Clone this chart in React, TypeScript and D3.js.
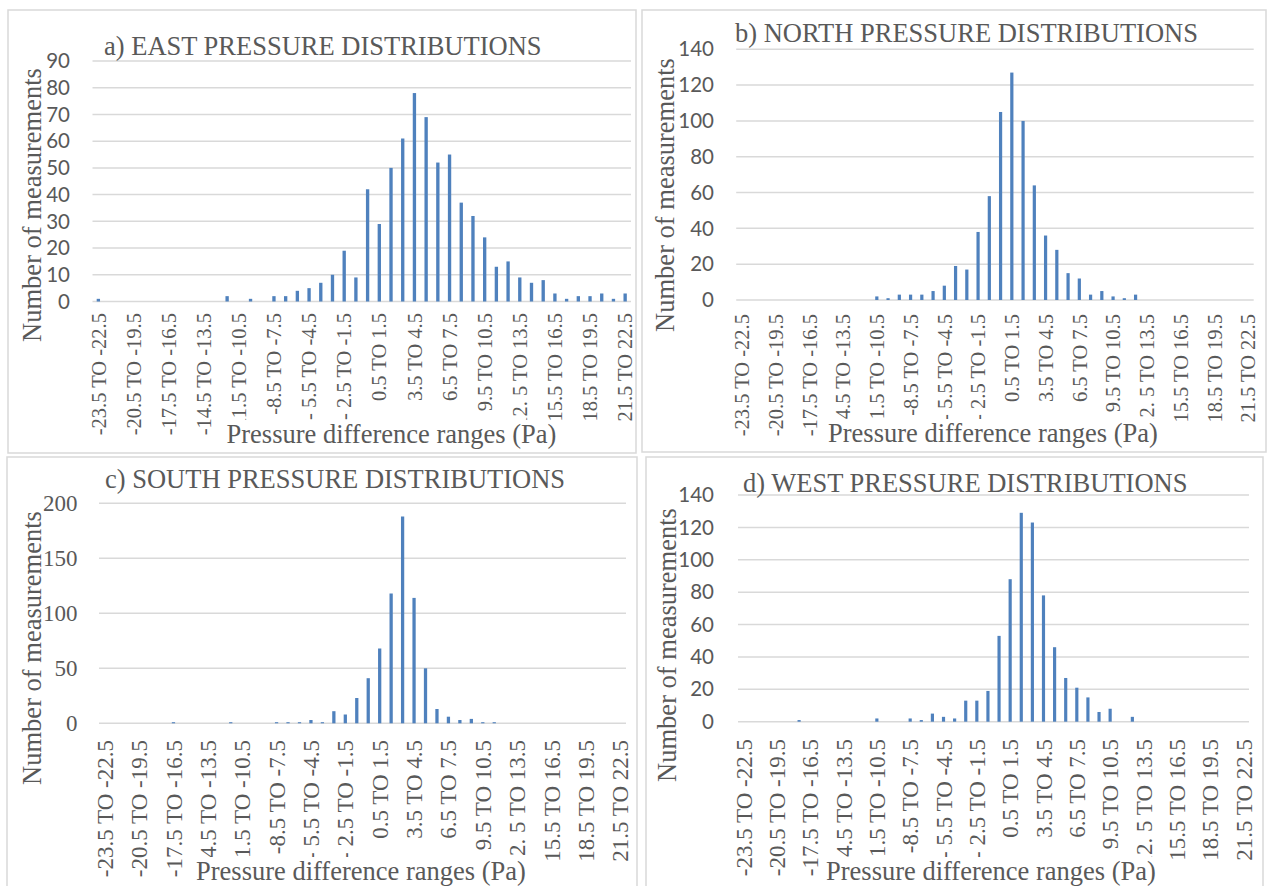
import React from "react";
import * as d3 from "d3";

// ---- DATA ----
const categories: string[] = [
  "-23.5 TO -22.5", "-22.5 TO -21.5", "-21.5 TO -20.5",
  "-20.5 TO -19.5", "-19.5 TO -18.5", "-18.5 TO -17.5",
  "-17.5 TO -16.5", "-16.5 TO -15.5", "-15.5 TO -14.5",
  "-14.5 TO -13.5", "-13.5 TO -12.5", "-12.5 TO -11.5",
  "-11.5 TO -10.5", "-10.5 TO -9.5", "-9.5 TO -8.5",
  "-8.5 TO -7.5", "-7.5 TO -6.5", "-6.5 TO -5.5",
  "- 5.5 TO -4.5", "-4.5 TO -3.5", "-3.5 TO -2.5",
  "- 2.5 TO -1.5", "-1.5 TO -0.5", "-0.5 TO 0.5",
  "0.5 TO 1.5", "1.5 TO 2.5", "2.5 TO 3.5",
  "3.5 TO 4.5", "4.5 TO 5.5", "5.5 TO 6.5",
  "6.5 TO 7.5", "7.5 TO 8.5", "8.5 TO 9.5",
  "9.5 TO 10.5", "10.5 TO 11.5", "11.5 TO 12.5",
  "12. 5 TO 13.5", "13.5 TO 14.5", "14.5 TO 15.5",
  "15.5 TO 16.5", "16.5 TO 17.5", "17.5 TO 18.5",
  "18.5 TO 19.5", "19.5 TO 20.5", "20.5 TO 21.5",
  "21.5 TO 22.5",
];

const eastCounts: number[] = [
  1, 0, 0, 0, 0, 0, 0, 0, 0, 0, 0, 2, 0, 1, 0, 2, 2, 4, 5, 7, 10, 19, 9,
  42, 29, 50, 61, 78, 69, 52, 55, 37, 32, 24, 13, 15, 9, 7, 8, 3, 1, 2, 2, 3, 1, 3,
];
const northCounts: number[] = [
  0, 0, 0, 0, 0, 0, 0, 0, 0, 0, 0, 0, 2, 1, 3, 3, 3, 5, 8, 19, 17, 38, 58,
  105, 127, 100, 64, 36, 28, 15, 12, 3, 5, 2, 1, 3, 0, 0, 0, 0, 0, 0, 0, 0, 0, 0,
];
const southCounts: number[] = [
  0, 0, 0, 0, 0, 0, 1, 0, 0, 0, 0, 1, 0, 0, 0, 1, 1, 1, 3, 1, 11, 8, 23,
  41, 68, 118, 188, 114, 50, 13, 6, 3, 4, 1, 1, 0, 0, 0, 0, 0, 0, 0, 0, 0, 0, 0,
];
const westCounts: number[] = [
  0, 0, 0, 0, 0, 1, 0, 0, 0, 0, 0, 0, 2, 0, 0, 2, 1, 5, 3, 2, 13, 13, 19,
  53, 88, 129, 123, 78, 46, 27, 21, 15, 6, 8, 0, 3, 0, 0, 0, 0, 0, 0, 0, 0, 0, 0,
];

const eastTicks: number[] = [0, 10, 20, 30, 40, 50, 60, 70, 80, 90];
const northTicks: number[] = [0, 20, 40, 60, 80, 100, 120, 140];
const southTicks: number[] = [0, 50, 100, 150, 200];
const westTicks: number[] = [0, 20, 40, 60, 80, 100, 120, 140];

const panelTitles: string[] = [
  "a) EAST PRESSURE DISTRIBUTIONS",
  "b) NORTH PRESSURE DISTRIBUTIONS",
  "c) SOUTH PRESSURE DISTRIBUTIONS",
  "d) WEST PRESSURE DISTRIBUTIONS",
];
const yAxisTitle = "Number of measurements";
const xAxisTitle = "Pressure difference ranges (Pa)";

// ---- STYLE / LAYOUT ----
const SERIF = "'Liberation Serif', 'Times New Roman', serif";
const SANS = "Lato, Carlito, Calibri, 'Open Sans', sans-serif";
const TEXT = "#595959";
const BAR = "#4F81BD";
const GRID = "#D9D9D9";

type Layout = {
  border: [number, number, number, number];
  plotLeft: number;
  plotRight: number;
  yZero: number;
  yTop: number;
  tickRight: number;
  tickFont: string;
  tickSize: number;
  titleX: number;
  titleY: number;
  yTitleX: number;
  yTitleY: number;
  xLabelTop: number;
  xLabelSize: number;
  xTitleX: number;
  xTitleY: number;
};

const layouts: Layout[] = [
  {
    border: [8, 10, 636, 453],
    plotLeft: 92.5, plotRight: 631, yZero: 301.5, yTop: 61,
    tickRight: 70, tickFont: SANS, tickSize: 20.5,
    titleX: 104, titleY: 55,
    yTitleX: 41, yTitleY: 205,
    xLabelTop: 313, xLabelSize: 20.5,
    xTitleX: 226.5, xTitleY: 443,
  },
  {
    border: [642, 10, 1266, 452],
    plotLeft: 736.2, plotRight: 1253.7, yZero: 300, yTop: 49.3,
    tickRight: 714, tickFont: SANS, tickSize: 20.5,
    titleX: 735, titleY: 41.7,
    yTitleX: 674, yTitleY: 195,
    xLabelTop: 314, xLabelSize: 20.5,
    xTitleX: 828, xTitleY: 442,
  },
  {
    border: [7, 457, 637, 900],
    plotLeft: 99, plotRight: 626, yZero: 723.3, yTop: 503.3,
    tickRight: 77.5, tickFont: SERIF, tickSize: 23,
    titleX: 105, titleY: 488,
    yTitleX: 41, yTitleY: 648,
    xLabelTop: 740, xLabelSize: 23,
    xTitleX: 196, xTitleY: 880,
  },
  {
    border: [646, 457, 1263, 900],
    plotLeft: 738, plotRight: 1249, yZero: 721.7, yTop: 495,
    tickRight: 714, tickFont: SANS, tickSize: 20.5,
    titleX: 743, titleY: 491.7,
    yTitleX: 676, yTitleY: 645,
    xLabelTop: 739, xLabelSize: 23,
    xTitleX: 826, xTitleY: 880,
  },
];

function Panel({
  layout,
  title,
  counts,
  ticks,
}: {
  layout: Layout;
  title: string;
  counts: number[];
  ticks: number[];
}) {
  const L = layout;
  const x = d3
    .scaleBand<string>()
    .domain(categories)
    .range([L.plotLeft, L.plotRight])
    .paddingInner(0)
    .paddingOuter(0);
  const yMax = ticks[ticks.length - 1];
  const y = d3.scaleLinear().domain([0, yMax]).range([L.yZero, L.yTop]);
  const bw = x.bandwidth() * 0.285;
  const shown = categories.filter((_, i) => i % 3 === 0);
  const fs = 26.5;
  const xTitleW = 333;

  return (
    <g>
      <rect
        x={L.border[0]}
        y={L.border[1]}
        width={L.border[2] - L.border[0]}
        height={L.border[3] - L.border[1]}
        fill="#fff"
        stroke={GRID}
        strokeWidth={1.5}
      />
      {ticks.map((t) => (
        <line
          key={"g" + t}
          x1={L.plotLeft}
          x2={L.plotRight}
          y1={y(t)}
          y2={y(t)}
          stroke={GRID}
          strokeWidth={1.5}
        />
      ))}
      {ticks.map((t) => (
        <text
          key={"t" + t}
          x={L.tickRight}
          y={y(t)}
          dy="0.35em"
          textAnchor="end"
          fontFamily={L.tickFont}
          fontSize={L.tickSize}
          fill={TEXT}
        >
          {t}
        </text>
      ))}
      {categories.map((c, i) => {
        const v = counts[i];
        if (!v) return null;
        const cx = (x(c) as number) + x.bandwidth() / 2;
        return (
          <rect
            key={"b" + i}
            x={cx - bw / 2}
            y={y(v)}
            width={bw}
            height={y(0) - y(v)}
            fill={BAR}
          />
        );
      })}
      {shown.map((c) => {
        const cx = (x(c) as number) + x.bandwidth() / 2;
        return (
          <text
            key={"l" + c}
            transform={`translate(${cx},${L.xLabelTop}) rotate(-90)`}
            dy="0.35em"
            textAnchor="end"
            fontFamily={SERIF}
            fontSize={L.xLabelSize}
            fill={TEXT}
          >
            {c}
          </text>
        );
      })}
      <text
        transform={`translate(${L.yTitleX},${L.yTitleY}) rotate(-90)`}
        textAnchor="middle"
        fontFamily={SERIF}
        fontSize={fs}
        fill={TEXT}
      >
        {yAxisTitle}
      </text>
      <rect
        x={L.xTitleX - 2}
        y={L.xTitleY - 23}
        width={xTitleW + 4}
        height={32}
        fill="#fff"
      />
      <text
        x={L.xTitleX}
        y={L.xTitleY}
        fontFamily={SERIF}
        fontSize={fs}
        fill={TEXT}
      >
        {xAxisTitle}
      </text>
      <text
        x={L.titleX}
        y={L.titleY}
        fontFamily={SERIF}
        fontSize={fs}
        fill={TEXT}
      >
        {title}
      </text>
    </g>
  );
}

export default function App() {
  const series = [eastCounts, northCounts, southCounts, westCounts];
  const tickSets = [eastTicks, northTicks, southTicks, westTicks];
  return (
    <svg
      width={1268}
      height={886}
      style={{ position: "absolute", left: 0, top: 0, background: "#fff" }}
    >
      <rect x={0} y={0} width={1268} height={886} fill="#fff" />
      {layouts.map((L, i) => (
        <Panel
          key={i}
          layout={L}
          title={panelTitles[i]}
          counts={series[i]}
          ticks={tickSets[i]}
        />
      ))}
    </svg>
  );
}
